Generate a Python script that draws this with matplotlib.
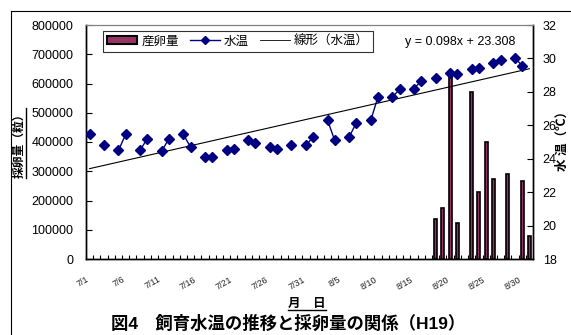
import numpy as np
import matplotlib
matplotlib.use("Agg")
import matplotlib.pyplot as plt
from matplotlib.patches import Patch
from matplotlib.lines import Line2D
from matplotlib.transforms import offset_copy

plt.rcParams['font.family'] = ['Liberation Sans', 'Noto Sans CJK JP']

# Days 7/1 .. 8/31
dates = [f"7/{d}" for d in range(1, 32)] + [f"8/{d}" for d in range(1, 32)]
label_every = 5

# Water temperature (deg C); days not listed were not measured
water_temp = {
    "7/1": 25.5, "7/3": 24.8, "7/5": 24.5, "7/6": 25.45, "7/8": 24.5, "7/9": 25.2,
    "7/11": 24.45, "7/12": 25.2, "7/14": 25.45, "7/15": 24.7, "7/17": 24.1, "7/18": 24.1,
    "7/20": 24.5, "7/21": 24.6, "7/23": 25.1, "7/24": 24.95, "7/26": 24.7, "7/27": 24.6,
    "7/29": 24.8, "7/31": 24.8, "8/1": 25.3, "8/3": 26.3, "8/4": 25.1, "8/6": 25.3,
    "8/7": 26.15, "8/9": 26.3, "8/10": 27.7, "8/12": 27.7, "8/13": 28.15, "8/15": 28.2,
    "8/16": 28.65, "8/18": 28.85, "8/20": 29.15, "8/21": 29.05, "8/23": 29.35, "8/24": 29.4,
    "8/26": 29.7, "8/27": 29.9, "8/29": 30.05, "8/30": 29.55,
}

# Number of eggs collected
egg_count = {
    "8/18": 138000, "8/19": 173000, "8/20": 632000, "8/21": 122000, "8/23": 572000,
    "8/24": 230000, "8/25": 401000, "8/26": 272000, "8/28": 289000, "8/30": 268000,
    "8/31": 80000,
}

# Linear trend of the water temperature
trend_slope = 0.098
trend_intercept = 23.308

left_ticks = list(range(0, 800001, 100000))
right_ticks = list(range(18, 33, 2))

n = len(dates)
x = np.arange(n)
temps = np.array([water_temp.get(d, np.nan) for d in dates], dtype=float)
eggs = np.array([egg_count.get(d, 0) for d in dates], dtype=float)
trend = trend_slope * (x + 1) + trend_intercept

W, H = 571, 335
fig = plt.figure(figsize=(W / 100, H / 100), dpi=100)

# outer chart frame
fig.add_artist(Line2D([11 / W, 11 / W], [0, 1 - 11 / H], color='black', lw=0.8, transform=fig.transFigure))
fig.add_artist(Line2D([11 / W, 1], [1 - 11 / H, 1 - 11 / H], color='black', lw=0.8, transform=fig.transFigure))

L, R, T, B = 86, 533, 25, 259
ax = fig.add_axes([L / W, 1 - B / H, (R - L) / W, (B - T) / H])
ax2 = ax.twinx()

maroon = '#993366'
navy = '#000080'

has_egg = eggs > 0
ax.bar(x[has_egg], eggs[has_egg], width=0.42, color=maroon, edgecolor='black', linewidth=1.2, zorder=2)
ax.set_xlim(-0.5, n - 0.5)
ax.set_ylim(0, 800000)
ax.set_yticks(left_ticks)
ax.set_yticklabels([str(v) for v in left_ticks])

ax2.plot(x, temps, color=navy, lw=1.0, marker='D', ms=5.4, mfc=navy, mec=navy, zorder=3)
ax2.plot(x, trend, color='black', lw=0.8, zorder=2)
ax2.set_ylim(18, 32)
ax2.set_yticks(right_ticks)
ax2.set_yticklabels([str(v) for v in right_ticks])

for a in (ax, ax2):
    for s in a.spines.values():
        s.set_linewidth(1.0)
        s.set_color('black')
    a.spines['top'].set_color('#808080')
    a.spines['top'].set_linewidth(0.8)

ax.tick_params(axis='y', direction='in', length=4, width=0.8, labelsize=9, pad=9)
ax2.tick_params(axis='y', direction='in', length=4, width=0.8, labelsize=9, pad=7)

# category boundaries as minor ticks, labels every five days
ax.set_xticks(np.arange(-0.5, n, 1.0), minor=True)
ax.set_xticks([])
ax.tick_params(axis='x', which='minor', direction='in', length=3, width=0.8)
lab_tr = offset_copy(ax.get_xaxis_transform(), fig=fig, x=-3.0, y=-11.5, units='points')
for i in range(0, n, label_every):
    ax.text(i, 0, dates[i], transform=lab_tr, rotation=30, rotation_mode='anchor',
            ha='right', va='top', fontsize=6.5, color='#222222')

# legend
handles = [
    Patch(facecolor=maroon, edgecolor='black', linewidth=1.5),
    Line2D([], [], color=navy, lw=1.0, marker='D', ms=4, mfc=navy, mec=navy),
    Line2D([], [], color='black', lw=0.6),
]
labels = ['産卵量', '水温', '線形（水温）']
leg = ax2.legend(handles, labels, loc='upper left', bbox_to_anchor=(103 / W, 1 - 31 / H),
                 bbox_transform=fig.transFigure, borderaxespad=0, ncol=3, fontsize=9,
                 frameon=True, fancybox=False, handlelength=2.4, handleheight=0.6,
                 handletextpad=0.3, columnspacing=0.9, borderpad=0.35)
leg.get_frame().set_edgecolor('black')
leg.get_frame().set_linewidth(0.8)

fig.text(460 / W, 1 - 42 / H, f"y = {trend_slope}x + {trend_intercept}", fontsize=9,
         ha='center', va='center')

# axis titles (underlined)
def underlined(xp, yp, s, rot, size, line_side):
    t = fig.text(xp / W, 1 - yp / H, s, rotation=rot, fontsize=size, fontweight='bold',
                 ha='center', va='center')
    fig.canvas.draw()
    bb = t.get_window_extent().transformed(fig.transFigure.inverted())
    if line_side == 'bottom':
        fig.add_artist(Line2D([bb.x0, bb.x1], [bb.y0, bb.y0], color='black', lw=1.0, transform=fig.transFigure))
    elif line_side == 'right':
        fig.add_artist(Line2D([bb.x1, bb.x1], [bb.y0, bb.y1], color='black', lw=1.0, transform=fig.transFigure))
    return t

underlined(20, 143, '採卵量（粒）', 90, 8.5, 'right')
underlined(307, 304, '月　日', 0, 9, 'bottom')
fig.text(563 / W, 1 - 138 / H, '水 温（℃）', rotation=90, fontsize=9, fontweight='bold',
         ha='center', va='center')

fig.text(288 / W, 1 - 323 / H, '図4　飼育水温の推移と採卵量の関係（H19）', fontsize=12.5,
         fontweight='bold', ha='center', va='center')

fig.savefig('out.png', dpi=100)
